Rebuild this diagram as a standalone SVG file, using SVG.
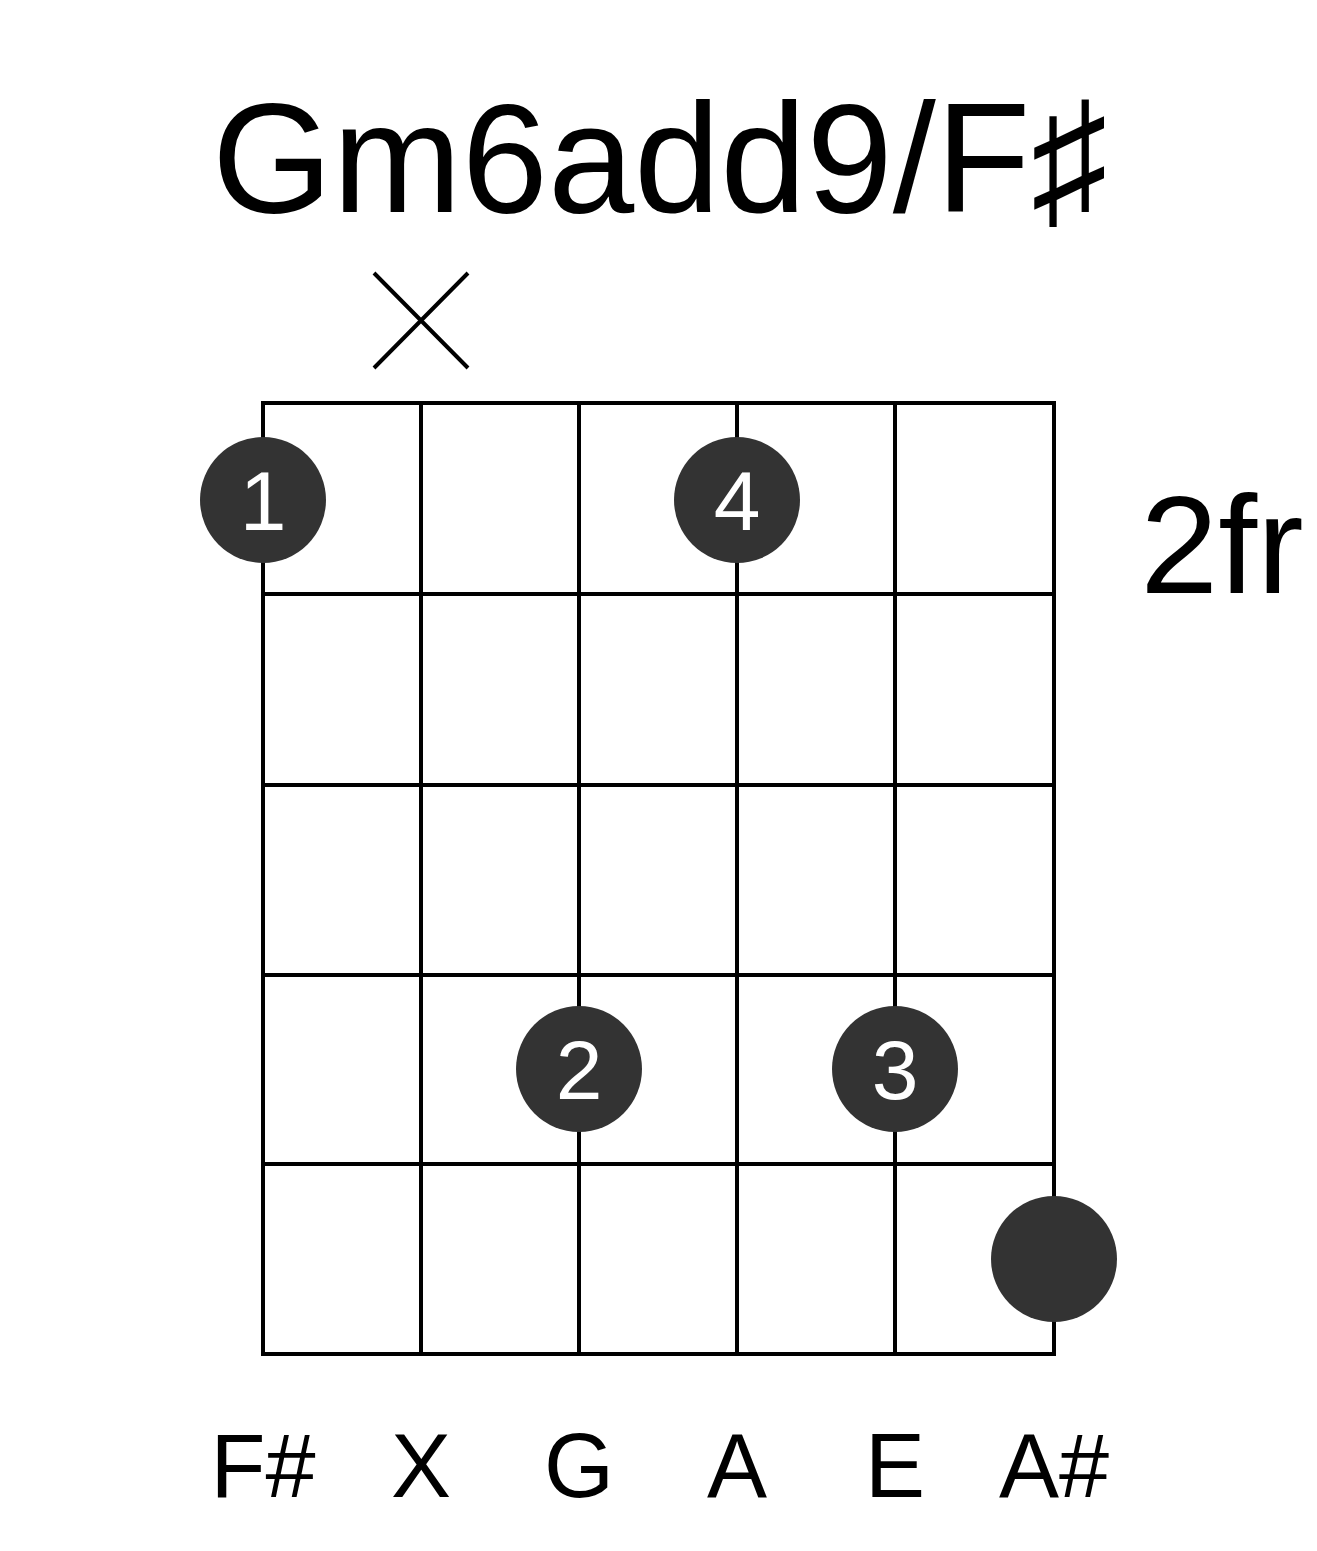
<svg xmlns="http://www.w3.org/2000/svg" width="1317" height="1551" viewBox="0 0 1317 1551">
<style>
.g{stroke:#000;stroke-width:4;fill:none}
.d{fill:#333}
.n{font-family:"Liberation Sans",Arial,sans-serif;fill:#fff;font-size:84px;text-anchor:middle}
.t{font-family:"Liberation Sans",Arial,sans-serif;fill:#000;text-anchor:middle}
</style>
<rect width="1317" height="1551" fill="#fff"/>
<text class="t" x="660" y="212" font-size="155">Gm6add9/F♯</text>
<g id="mute"><path class="g" d="M374 273L468 368M468 273L374 368" stroke-width="3.5"/></g>
<g id="grid" class="g">
<rect x="263" y="403" width="791" height="951"/>
<path d="M421 403V1354M579 403V1354M737 403V1354M895 403V1354M263 594H1054M263 785H1054M263 975H1054M263 1164H1054"/>
</g>
<text class="t" x="1222" y="593" font-size="140">2fr</text>
<g id="f1"><circle class="d" cx="263" cy="500" r="63"/><text class="n" x="263" y="530">1</text></g>
<g id="f4"><circle class="d" cx="737" cy="500" r="63"/><text class="n" x="737" y="530">4</text></g>
<g id="f2"><circle class="d" cx="579" cy="1069" r="63"/><text class="n" x="579" y="1099">2</text></g>
<g id="f3"><circle class="d" cx="895" cy="1069" r="63"/><text class="n" x="895" y="1099">3</text></g>
<g id="f5"><circle class="d" cx="1054" cy="1259" r="63"/></g>
<g class="t" font-size="90">
<text x="263" y="1497">F#</text><text x="421" y="1497">X</text><text x="579" y="1497">G</text>
<text x="737" y="1497">A</text><text x="895" y="1497">E</text><text x="1054" y="1497">A#</text>
</g>
</svg>
